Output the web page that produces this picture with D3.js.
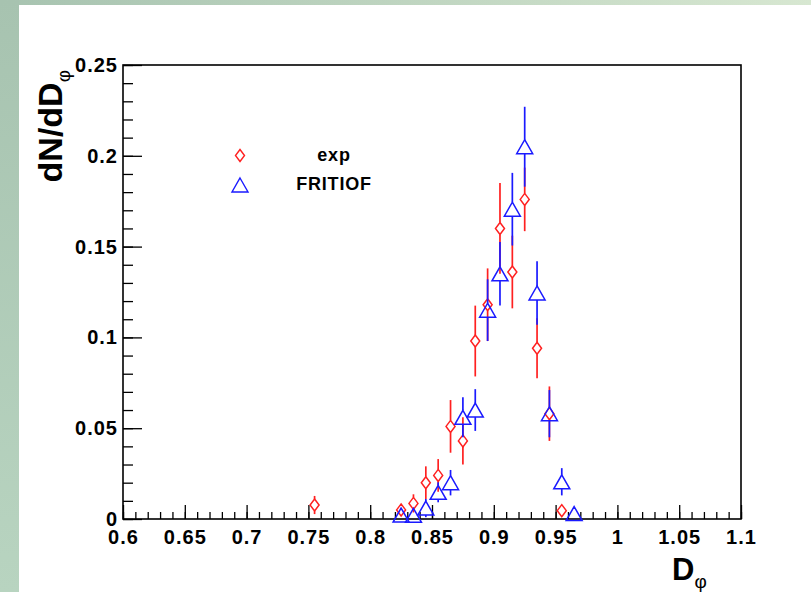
<!DOCTYPE html>
<html>
<head>
<meta charset="utf-8">
<script src="https://cdn.jsdelivr.net/npm/d3@7"></script>
<style>
body { margin: 0; background: #fff; }
svg { display: block; font-family: "Liberation Sans", Arial, sans-serif; }
</style>
</head>
<body>
<svg id="chart" width="811" height="592"></svg>
<script>
// bin centres and values
var expBins = [0.755, 0.825, 0.835, 0.845, 0.855, 0.865, 0.875, 0.885, 0.895, 0.905, 0.915, 0.925, 0.935, 0.945, 0.955];
var expVals = [0.0077, 0.005, 0.0086, 0.020, 0.024, 0.051, 0.043, 0.098, 0.118, 0.160, 0.136, 0.176, 0.094, 0.058, 0.0046];
var expErrs = [0.005, 0.003, 0.005, 0.009, 0.009, 0.0145, 0.013, 0.0195, 0.02, 0.025, 0.02, 0.0175, 0.0165, 0.015, 0.003];

var fritBins = [0.825, 0.835, 0.845, 0.855, 0.865, 0.875, 0.885, 0.895, 0.905, 0.915, 0.925, 0.935, 0.945, 0.955, 0.965];
var fritVals = [0.0022, 0.002, 0.006, 0.0147, 0.020, 0.056, 0.060, 0.115, 0.135, 0.1706, 0.205, 0.1245, 0.058, 0.0205, 0.003];
var fritErrs = [0.001, 0.001, 0.005, 0.0055, 0.007, 0.011, 0.0115, 0.017, 0.0175, 0.02, 0.022, 0.0175, 0.013, 0.0075, 0.001];

var xMajor = [0.6, 0.65, 0.7, 0.75, 0.8, 0.85, 0.9, 0.95, 1, 1.05, 1.1];
var yMajor = [0, 0.05, 0.1, 0.15, 0.2, 0.25];
var legendNames = ["exp", "FRITIOF"];

var svg = d3.select("#chart");

// greenish slide background
var defs = svg.append("defs");
var gTop = defs.append("linearGradient").attr("id", "gtop").attr("x1", 0).attr("x2", 1).attr("y1", 0).attr("y2", 0);
gTop.append("stop").attr("offset", 0).attr("stop-color", "#a7c3b0");
gTop.append("stop").attr("offset", 1).attr("stop-color", "#d7e7d1");
var gLeft = defs.append("linearGradient").attr("id", "gleft").attr("x1", 0).attr("x2", 0).attr("y1", 0).attr("y2", 1);
gLeft.append("stop").attr("offset", 0).attr("stop-color", "#a7c3b0");
gLeft.append("stop").attr("offset", 1).attr("stop-color", "#b8d4c0");
svg.append("rect").attr("x", 0).attr("y", 0).attr("width", 811).attr("height", 5).attr("fill", "url(#gtop)");
svg.append("rect").attr("x", 0).attr("y", 0).attr("width", 19).attr("height", 592).attr("fill", "url(#gleft)");

var pL = 123, pR = 741, pT = 65, pB = 519;

var x = d3.scaleLinear().domain([0.6, 1.1]).range([pL, pR]);
var y = d3.scaleLinear().domain([0, 0.25]).range([pB, pT]);

var xMinor = d3.range(0.6, 1.1001, 0.01).map(function(d) { return +d.toFixed(2); });
var yMinor = d3.range(0, 0.2501, 0.01).map(function(d) { return +d.toFixed(2); });

// minor ticks
svg.append("g").attr("transform", "translate(0," + pB + ")")
  .call(d3.axisBottom(x).tickValues(xMinor).tickSizeInner(-7).tickSizeOuter(0).tickFormat(""))
  .call(function(g) { g.select(".domain").remove(); });
svg.append("g").attr("transform", "translate(" + pL + ",0)")
  .call(d3.axisLeft(y).tickValues(yMinor).tickSizeInner(-10).tickSizeOuter(0).tickFormat(""))
  .call(function(g) { g.select(".domain").remove(); });

// major ticks + labels
var xAx = svg.append("g").attr("transform", "translate(0," + pB + ")")
  .call(d3.axisBottom(x).tickValues(xMajor).tickSizeInner(-14).tickSizeOuter(0).tickPadding(11)
    .tickFormat(function(d) { return d3.format("")(d); }));
xAx.select(".domain").remove();

var yAx = svg.append("g").attr("transform", "translate(" + pL + ",0)")
  .call(d3.axisLeft(y).tickValues(yMajor).tickSizeInner(-19).tickSizeOuter(0).tickPadding(5)
    .tickFormat(function(d) { return d3.format("")(d); }));
yAx.select(".domain").remove();

svg.selectAll(".tick line").attr("stroke", "#000").attr("stroke-width", 1.3);
svg.selectAll(".tick text")
  .attr("fill", "#000")
  .style("font-family", "'Liberation Sans', Arial, sans-serif")
  .style("font-size", "20px")
  .style("font-weight", "bold")
  .style("letter-spacing", "1px");

// frame
svg.append("rect").attr("x", pL).attr("y", pT).attr("width", pR - pL).attr("height", pB - pT)
  .attr("fill", "none").attr("stroke", "#000").attr("stroke-width", 1.6);

// markers
var dH = 6, dW = 4.5;   // diamond half sizes
var tUp = 7, tDn = 7, tW = 8; // triangle

function diamond(cx, cy) {
  return "M" + cx + "," + (cy - dH) + "L" + (cx + dW) + "," + cy + "L" + cx + "," + (cy + dH) + "L" + (cx - dW) + "," + cy + "Z";
}
function triangle(cx, cy) {
  return "M" + cx + "," + (cy - tUp) + "L" + (cx + tW) + "," + (cy + tDn) + "L" + (cx - tW) + "," + (cy + tDn) + "Z";
}

function drawSeries(bins, vals, errs, color, shape, up, dn) {
  var pts = bins.map(function(b, i) { return { x: b, v: vals[i], e: errs[i] }; });
  var g = svg.append("g");
  pts.forEach(function(p) {
    var cx = x(p.x), cy = y(p.v);
    var yt = y(p.v + p.e), yb = Math.min(y(p.v - p.e), pB);
    if (yt < cy - up) g.append("line").attr("x1", cx).attr("x2", cx).attr("y1", yt).attr("y2", cy - up)
      .attr("stroke", color).attr("stroke-width", 1.7);
    if (yb > cy + dn) g.append("line").attr("x1", cx).attr("x2", cx).attr("y1", cy + dn).attr("y2", yb)
      .attr("stroke", color).attr("stroke-width", 1.7);
  });
  g.selectAll("path").data(pts).enter().append("path")
    .attr("d", function(p) { return shape(x(p.x), y(p.v)); })
    .attr("fill", "none").attr("stroke", color).attr("stroke-width", 1.5);
}

drawSeries(expBins, expVals, expErrs, "#ff2020", diamond, dH, dH);
drawSeries(fritBins, fritVals, fritErrs, "#1a1aff", triangle, tUp, tDn);

// legend
svg.append("path").attr("d", diamond(240, 155.5)).attr("fill", "none").attr("stroke", "#ff2020").attr("stroke-width", 1.4);
svg.append("path").attr("d", triangle(240, 185)).attr("fill", "none").attr("stroke", "#1a1aff").attr("stroke-width", 1.4);
svg.selectAll(".leg").data(legendNames).enter().append("text")
  .attr("x", 334).attr("y", function(d, i) { return 161 + i * 29; })
  .attr("text-anchor", "middle")
  .style("font-size", "18px").style("font-weight", "bold").style("letter-spacing", "0.8px")
  .text(function(d) { return d; });

// axis titles
var yt = svg.append("text").attr("transform", "translate(62,70) rotate(-90)")
  .attr("text-anchor", "end")
  .style("font-size", "34px").style("font-weight", "bold");
yt.append("tspan").text("dN/dD");
yt.append("tspan").attr("dy", 8).style("font-size", "19px").style("font-weight", "normal").text("φ");

var xt = svg.append("text").attr("x", 672).attr("y", 580)
  .style("font-size", "31px").style("font-weight", "bold");
xt.append("tspan").text("D");
xt.append("tspan").attr("dy", 8).style("font-size", "19px").style("font-weight", "normal").text("φ");
</script>
</body>
</html>
